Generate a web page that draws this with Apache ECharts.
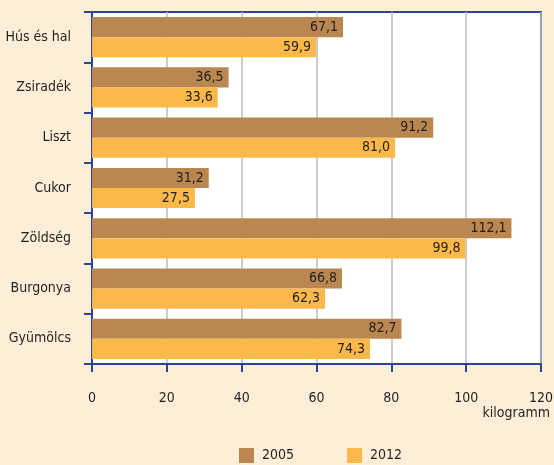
<!DOCTYPE html>
<html lang="hu">
<head>
  <meta charset="UTF-8">
  <title>Élelmiszer-fogyasztás</title>
  <style type="text/css">
    html, body { margin: 0; padding: 0; background: #fdeed8; }
    #main { width: 554px; height: 465px; }
  </style>
</head>
<body>
  <div id="main"></div>
  <script type="text/javascript" src="https://cdn.jsdelivr.net/npm/echarts@6/dist/echarts.min.js"></script>
  <script type="text/javascript">
    var categories = ['Hús és hal', 'Zsiradék', 'Liszt', 'Cukor', 'Zöldség', 'Burgonya', 'Gyümölcs'];
    var values2005 = [67.1, 36.5, 91.2, 31.2, 112.1, 66.8, 82.7];
    var values2012 = [59.9, 33.6, 81.0, 27.5, 99.8, 62.3, 74.3];
    var xTicks = [0, 20, 40, 60, 80, 100, 120];

    var font = '"DejaVu Sans Condensed", "Liberation Sans Narrow", sans-serif';
    var blue = '#2e4593';
    var txt = '#231f20';

    var myChart = echarts.init(document.getElementById('main'));

    // label with decimal comma
    function fmt(p) {
      return p.value.toFixed(1).replace('.', ',');
    }

    var option = {
      backgroundColor: '#fdeed8',
      animation: false,
      textStyle: { fontFamily: font },
      grid: {
        left: 92, right: 13, top: 12, bottom: 101,
        outerBoundsMode: 'none',
        containLabel: false,
        show: true, backgroundColor: '#ffffff',
        borderColor: blue, borderWidth: 2
      },
      legend: {
        top: 448, left: 239, padding: 0,
        itemWidth: 15, itemHeight: 15, itemGap: 53,
        icon: 'rect',
        textStyle: { fontFamily: font, fontSize: 14, color: txt, padding: [0, 0, 0, 3] },
        data: ['2005', '2012']
      },
      xAxis: {
        type: 'value',
        min: xTicks[0], max: xTicks[xTicks.length - 1], interval: 20,
        axisLine: { show: true, lineStyle: { color: blue, width: 2 } },
        axisTick: { show: true, length: 8, lineStyle: { color: blue, width: 2 } },
        axisLabel: { margin: 27, fontFamily: font, fontSize: 14, color: txt },
        splitLine: { show: true, lineStyle: { color: '#bdbdbd', width: 1.5 } }
      },
      yAxis: {
        type: 'category',
        inverse: true,
        data: categories,
        axisLine: { show: true, lineStyle: { color: blue, width: 2 } },
        axisTick: { show: true, length: 8, lineStyle: { color: blue, width: 2 } },
        axisLabel: { margin: 21, fontFamily: font, fontSize: 14, color: txt }
      },
      graphic: [{
        type: 'text',
        right: 4, top: 406,
        style: { text: 'kilogramm', font: '14px ' + font, fill: txt }
      }],
      series: [{
        name: '2005',
        type: 'bar',
        data: values2005,
        barGap: '0%',
        barCategoryGap: '20%',
        itemStyle: { color: '#b9874f' },
        label: { show: true, position: 'insideRight', distance: 5, formatter: fmt, fontFamily: font, fontSize: 14, color: txt }
      }, {
        name: '2012',
        type: 'bar',
        data: values2012,
        barGap: '0%',
        barCategoryGap: '20%',
        itemStyle: { color: '#fbb84b' },
        label: { show: true, position: 'insideRight', distance: 5, formatter: fmt, fontFamily: font, fontSize: 14, color: txt }
      }]
    };
    myChart.setOption(option);
  </script>
</body>
</html>
